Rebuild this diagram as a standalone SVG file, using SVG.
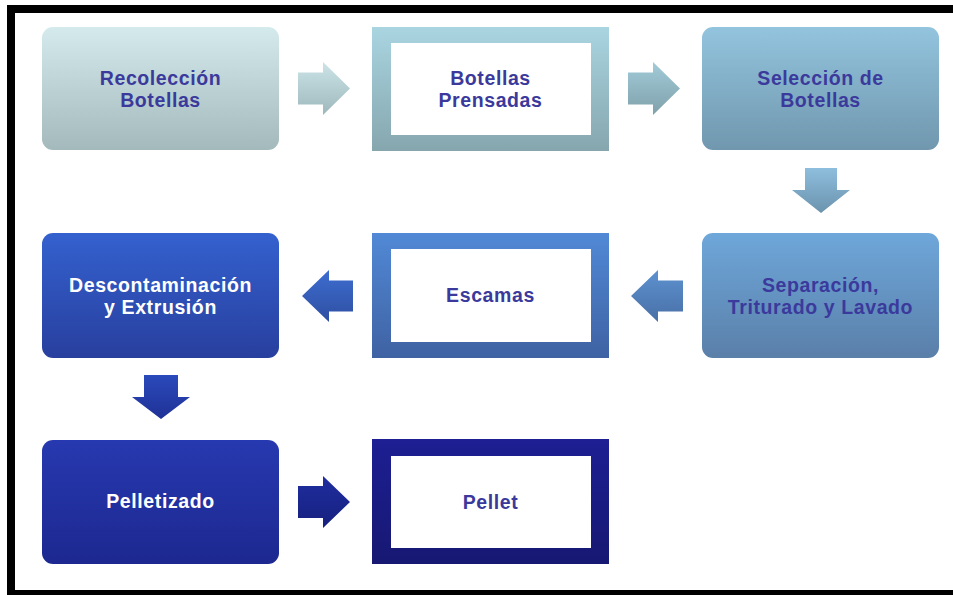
<svg xmlns="http://www.w3.org/2000/svg" width="953" height="595" viewBox="0 0 953 595">
<style>
  .lbl { font-family: "Liberation Sans", Arial, sans-serif; font-weight: bold; font-size: 19.5px; letter-spacing: 0.6px; text-anchor: middle; fill: #3b3a9c; }
  .lblw { font-family: "Liberation Sans", Arial, sans-serif; font-weight: bold; font-size: 19.5px; letter-spacing: 0.6px; text-anchor: middle; fill: #ffffff; }
  .inner { fill: #ffffff; }
</style>
<defs>
  <linearGradient id="g1" x1="0" y1="0" x2="0" y2="1"><stop offset="0" stop-color="#d4eaed"/><stop offset="1" stop-color="#a3b9bb"/></linearGradient>
  <linearGradient id="a1" x1="0" y1="0" x2="0" y2="1"><stop offset="0" stop-color="#cce4e8"/><stop offset="1" stop-color="#9db8bc"/></linearGradient>
  <linearGradient id="g2" x1="0" y1="0" x2="0" y2="1"><stop offset="0" stop-color="#a9d5e1"/><stop offset="1" stop-color="#86a6ae"/></linearGradient>
  <linearGradient id="a2" x1="0" y1="0" x2="0" y2="1"><stop offset="0" stop-color="#a1cbd8"/><stop offset="1" stop-color="#80a1ab"/></linearGradient>
  <linearGradient id="g3" x1="0" y1="0" x2="0" y2="1"><stop offset="0" stop-color="#93c4de"/><stop offset="1" stop-color="#7097ae"/></linearGradient>
  <linearGradient id="a3" x1="0" y1="0" x2="0" y2="1"><stop offset="0" stop-color="#8ebedd"/><stop offset="1" stop-color="#6b93ae"/></linearGradient>
  <linearGradient id="g4" x1="0" y1="0" x2="0" y2="1"><stop offset="0" stop-color="#6ea7da"/><stop offset="1" stop-color="#5a7fa9"/></linearGradient>
  <linearGradient id="a4" x1="0" y1="0" x2="0" y2="1"><stop offset="0" stop-color="#5c92d0"/><stop offset="1" stop-color="#4a6fa6"/></linearGradient>
  <linearGradient id="g5" x1="0" y1="0" x2="0" y2="1"><stop offset="0" stop-color="#5189d6"/><stop offset="1" stop-color="#3f62a3"/></linearGradient>
  <linearGradient id="a5" x1="0" y1="0" x2="0" y2="1"><stop offset="0" stop-color="#3d6dd0"/><stop offset="1" stop-color="#2f4fa2"/></linearGradient>
  <linearGradient id="g6" x1="0" y1="0" x2="0" y2="1"><stop offset="0" stop-color="#3461cf"/><stop offset="1" stop-color="#283f9e"/></linearGradient>
  <linearGradient id="a6" x1="0" y1="0" x2="0" y2="1"><stop offset="0" stop-color="#2b4abb"/><stop offset="1" stop-color="#1f3196"/></linearGradient>
  <linearGradient id="g7" x1="0" y1="0" x2="0" y2="1"><stop offset="0" stop-color="#2739b0"/><stop offset="1" stop-color="#1d2890"/></linearGradient>
  <linearGradient id="a7" x1="0" y1="0" x2="0" y2="1"><stop offset="0" stop-color="#1f2ea0"/><stop offset="1" stop-color="#17207e"/></linearGradient>
  <linearGradient id="g8" x1="0" y1="0" x2="0" y2="1"><stop offset="0" stop-color="#1d1f93"/><stop offset="1" stop-color="#171872"/></linearGradient>
</defs>
<rect x="0" y="0" width="953" height="595" fill="#ffffff"/>
<!-- frame -->
<g id="frame" fill="#000000">
  <rect x="7" y="5" width="946" height="8"/>
  <rect x="7" y="5" width="8" height="590"/>
  <rect x="7" y="590" width="946" height="5"/>
</g>
<!-- connectors -->
<g id="connectors">
  <path d="M298,72.5 H323 V62 L350,88.5 L323,115 V104.5 H298 Z" fill="url(#a1)"/>
  <path d="M628,72.5 H653 V62 L680,88.5 L653,115 V104.5 H628 Z" fill="url(#a2)"/>
  <path d="M805,168 H837 V190 H850 L821,213 L792,190 H805 Z" fill="url(#a3)"/>
  <path d="M683,280.5 V311.5 H658 V322 L631,296 L658,270 V280.5 Z" fill="url(#a4)"/>
  <path d="M353,280.5 V311.5 H329 V322 L302,296 L329,270 V280.5 Z" fill="url(#a5)"/>
  <path d="M144,375 H178 V397 H190 L161,419 L132,397 H144 Z" fill="url(#a6)"/>
  <path d="M298,486 H323 V476 L350,502 L323,528 V518 H298 Z" fill="url(#a7)"/>
</g>
<g id="n1">
  <rect x="42" y="27" width="237" height="123" rx="11" fill="url(#g1)"/>
  <text class="lbl" x="160.5" y="84.5">Recolección</text>
  <text class="lbl" x="160.5" y="106.5">Botellas</text>
</g>
<g id="n2">
  <rect x="372" y="27" width="237" height="124" fill="url(#g2)"/>
  <rect class="inner" x="391" y="43" width="200" height="92"/>
  <text class="lbl" x="490.5" y="84.5">Botellas</text>
  <text class="lbl" x="490.5" y="106.5">Prensadas</text>
</g>
<g id="n3">
  <rect x="702" y="27" width="237" height="123" rx="11" fill="url(#g3)"/>
  <text class="lbl" x="820.5" y="84.5">Selección de</text>
  <text class="lbl" x="820.5" y="106.5">Botellas</text>
</g>
<g id="n4">
  <rect x="702" y="233" width="237" height="125" rx="11" fill="url(#g4)"/>
  <text class="lbl" x="820.5" y="291.5">Separación,</text>
  <text class="lbl" x="820.5" y="313.5">Triturado y Lavado</text>
</g>
<g id="n5">
  <rect x="372" y="233" width="237" height="125" fill="url(#g5)"/>
  <rect class="inner" x="391" y="249" width="200" height="93"/>
  <text class="lbl" x="490.5" y="302">Escamas</text>
</g>
<g id="n6">
  <rect x="42" y="233" width="237" height="125" rx="11" fill="url(#g6)"/>
  <text class="lblw" x="160.5" y="291.5">Descontaminación</text>
  <text class="lblw" x="160.5" y="313.5">y Extrusión</text>
</g>
<g id="n7">
  <rect x="42" y="440" width="237" height="124" rx="11" fill="url(#g7)"/>
  <text class="lblw" x="160.5" y="508">Pelletizado</text>
</g>
<g id="n8">
  <rect x="372" y="439" width="237" height="125" fill="url(#g8)"/>
  <rect class="inner" x="391" y="456" width="200" height="92"/>
  <text class="lbl" x="490.5" y="509">Pellet</text>
</g>
</svg>
